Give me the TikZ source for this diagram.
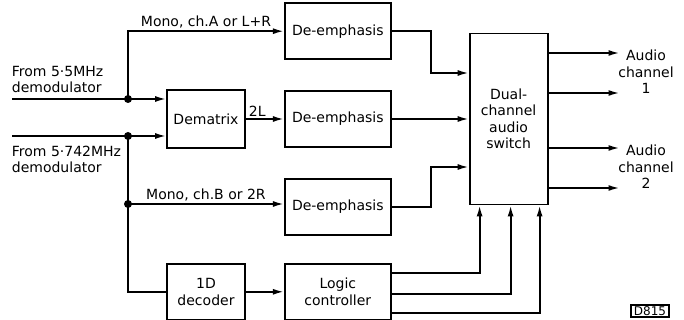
\documentclass[tikz,border=0pt]{standalone}
\usepackage{fontspec}
\setmainfont{DejaVu Sans}
\usepackage{tikz}
\usetikzlibrary{arrows.meta,positioning}

\begin{document}
\begin{tikzpicture}[x=1pt,y=-1pt,>={Latex[length=11pt,width=6pt]},line width=1.8pt,
    font=\fontsize{14}{16.5}\selectfont,
    blk/.style={draw,align=center,minimum width=78pt,minimum height=56pt,inner sep=0pt},
    demph/.style={blk,minimum width=106pt},
    lbl/.style={inner sep=2pt}]
  \useasboundingbox (0,0) rectangle (684,320);

  % blocks
  \node[blk,minimum height=58pt] (dematrix) at (206,119) {Dematrix};
  \node[demph,right=38pt of dematrix] (deL) {De-emphasis};
  \node[demph,above=30pt of deL] (deA) {De-emphasis};
  \node[demph,below=30pt of deL] (deB) {De-emphasis};
  \node[blk,below=114pt of dematrix] (decoder) {1D\\decoder};
  \node[demph,right=38pt of decoder] (logic) {Logic\\controller};
  \node[blk,minimum height=171pt,right=77pt of deL] (switch)
        {Dual-\\channel\\audio\\switch};

  % inputs
  \coordinate (in1) at (12,99);
  \coordinate (j1) at (128,99);
  \coordinate (in2) at (12,136);
  \coordinate (j2) at (128,136);
  \coordinate (j3) at (128,204);
  \node[lbl,inner sep=0pt,align=left,anchor=south west] (src1) at (11,94)
        {From 5·5MHz\\demodulator};
  \node[lbl,inner sep=0pt,align=left,anchor=north west] (src2) at (11,145)
        {From 5·742MHz\\demodulator};

  \draw (in1) -- (j1);
  \draw[->] (j1) -- (j1 -| dematrix.west);
  \draw[->] (j1) |- node[lbl,above,pos=0.75] (monoA) {Mono, ch.A or L+R} (deA.west);
  \draw (in2) -- (j2);
  \draw[->] (j2) -- (j2 -| dematrix.west);
  \draw (j2) -- (j3);
  \draw[->] (j3) -- node[lbl,above] (monoB) {Mono, ch.B or 2R} (j3 -| deB.west);
  \draw (j3) |- (decoder.west);
  \fill (j1) circle (4pt) (j2) circle (4pt) (j3) circle (4pt);

  \draw[->] (dematrix) -- node[lbl,above,pos=0.3] (twoL) {2L} (deL);
  \draw[->] (decoder) -- (logic);

  % into the switch
  \draw[->] (deA.east) -- ++(39,0) |- ([yshift=46pt]switch.west);
  \draw[->] (deL.east) -- (deL.east -| switch.west);
  \draw[->] (deB.east) -- ++(39,0) |- ([yshift=-48pt]switch.west);
  \foreach \dy/\dx in {19/-29,-2/2,-21/31}
    \draw[->] ([yshift=\dy pt]logic.east) -| ([xshift=\dx pt]switch.south);

  % outputs
  \foreach \dy/\n in {66/o1,26/o2,-29/o3,-69/o4} {
    \coordinate (\n) at ([xshift=71pt,yshift=\dy pt]switch.east);
    \draw[->] ([yshift=\dy pt]switch.east) -- (\n);
  }
  \node[lbl,align=center] (aud1) at (646,72) {Audio\\channel\\1};
  \node[lbl,align=center] (aud2) at (646,167) {Audio\\channel\\2};

  \node[draw,line width=1.2pt,inner xsep=3pt,inner ysep=1.5pt,
        font=\fontsize{12}{13}\selectfont] (fig) at (650,311) {D815};
\end{tikzpicture}
\end{document}
